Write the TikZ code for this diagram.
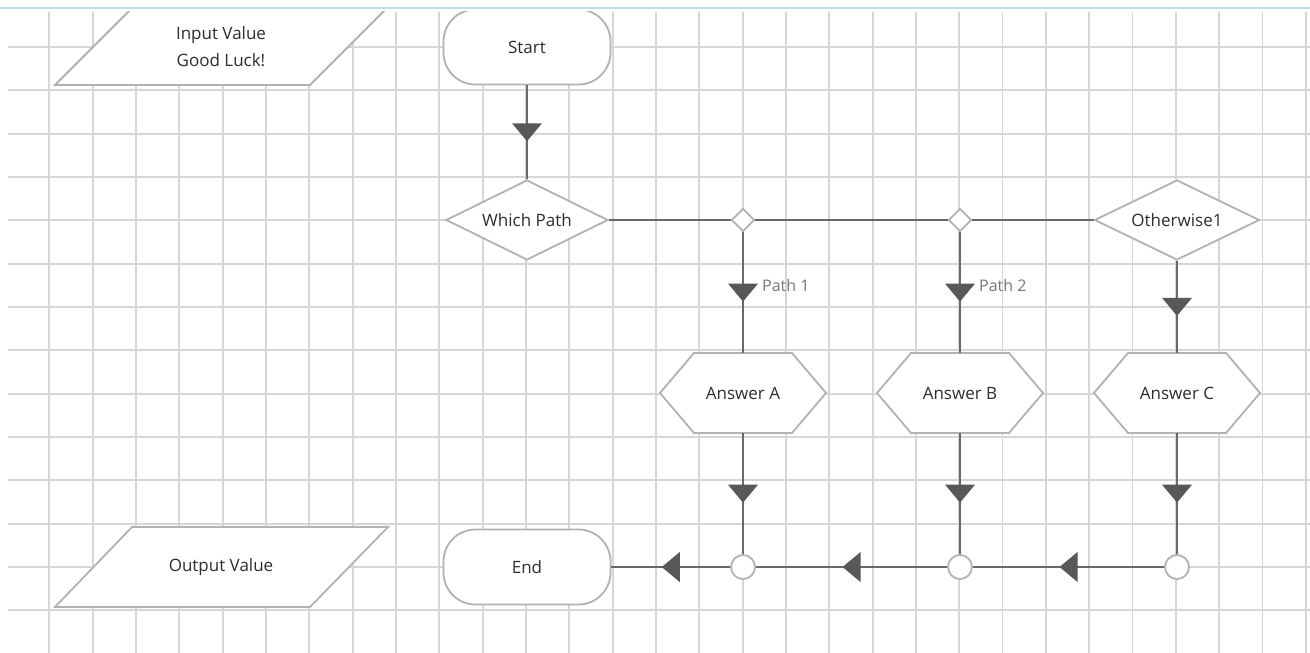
\documentclass[tikz,border=0pt]{standalone}
\usepackage{fontspec}
\setmainfont{Open Sans}
\usetikzlibrary{shapes.geometric,decorations.markings,calc}
\definecolor{gridc}{RGB}{214,214,214}
\definecolor{shapec}{RGB}{178,178,178}
\definecolor{linec}{RGB}{105,105,105}
\definecolor{arrc}{RGB}{88,88,88}
\definecolor{txtc}{RGB}{45,45,45}
\definecolor{lblc}{RGB}{120,120,120}
\definecolor{topc}{RGB}{190,222,232}
\begin{document}
\begin{tikzpicture}[x=1pt,y=-1pt,
  every node/.style={font=\fontsize{17}{27}\selectfont, text=txtc},
  box/.style={draw=none, rectangle, inner sep=0pt},
  outline/.style={draw=shapec, line width=1.8pt, fill=white},
  term/.style={outline, rectangle, rounded corners=32pt, minimum width=167pt, minimum height=75pt, inner sep=0pt},
  decide/.style={outline, diamond, aspect=2, inner sep=0pt, minimum height=80pt},
  junc/.style={outline, diamond, minimum width=23pt, minimum height=23pt, inner sep=0pt},
  merge/.style={outline, circle, minimum size=24pt, inner sep=0pt},
  conn/.style={draw=linec, line width=2pt},
  midarrow/.style={postaction={decorate}, decoration={markings, mark=at position 0.5 with {\fill[arrc] (-9pt,15pt) -- (9pt,0pt) -- (-9pt,-15pt) -- cycle;}}},
  lbl/.style={font=\fontsize{16}{18}\selectfont, text=lblc, anchor=west, inner sep=0pt},
]
\useasboundingbox (0,0) rectangle (1310,653);
\fill[white] (0,0) rectangle (1310,653);
% grid
\foreach \k in {1,...,30} \draw[gridc, line width=1.8pt] ({6+43.33*\k},12) -- ({6+43.33*\k},653);
\foreach \k in {1,...,14} \draw[gridc, line width=1.8pt] (8,{3.7+43.33*\k}) -- (1310,{3.7+43.33*\k});

% parallelograms
\draw[outline] (55,85) -- (310,85) -- (386,9) -- (131,9) -- cycle;
\node[align=center] (input) at (221,47) {Input Value\\Good Luck!};
\draw[outline] (55,607) -- (310,607) -- (388,527) -- (132,527) -- cycle;
\node (output) at (221,567) {Output Value};

% terminals
\node[term] (start) at (527,47) {Start};
\node[term] (end) at (527,567) {End};

% decisions
\node[decide, minimum width=162pt] (which) at (527,220) {Which Path};
\node[decide, minimum width=165pt] (other) at (1177,220) {Otherwise1};
\node[junc] (d1) at (743,220) {};
\node[junc] (d2) at (960,220) {};

% hexagons
\foreach \x in {743,960,1177}
  \draw[outline] (\x,393) ++(-83,0) -- ++(34,-40) -- ++(98,0) -- ++(34,40) -- ++(-34,40) -- ++(-98,0) -- cycle;
\node[box, minimum width=166pt, minimum height=80pt] (ansA) at (743,393) {Answer A};
\node[box, minimum width=166pt, minimum height=80pt] (ansB) at (960,393) {Answer B};
\node[box, minimum width=166pt, minimum height=80pt] (ansC) at (1177,393) {Answer C};

% merge circles
\node[merge] (c1) at (743,567) {};
\node[merge] (c2) at (960,567) {};
\node[merge] (c3) at (1177,567) {};

% connectors
\draw[conn, midarrow] (start.south) -- (which.north);
\draw[conn] (which.east) -- (d1.west);
\draw[conn] (d1.east) -- (d2.west);
\draw[conn] (d2.east) -- (other.west);
\draw[conn, midarrow] (d1.south) -- (ansA.north);
\draw[conn, midarrow] (d2.south) -- (ansB.north);
\draw[conn, midarrow] (other.south) -- (ansC.north);
\node[lbl] (p1) at ($(d1.south)!0.5!(ansA.north)+(19,-7)$) {Path 1};
\node[lbl] (p2) at ($(d2.south)!0.5!(ansB.north)+(19,-7)$) {Path 2};
\draw[conn, midarrow] (ansA.south) -- (c1.north);
\draw[conn, midarrow] (ansB.south) -- (c2.north);
\draw[conn, midarrow] (ansC.south) -- (c3.north);
\draw[conn, midarrow] (c3.west) -- (c2.east);
\draw[conn, midarrow] (c2.west) -- (c1.east);
\draw[conn, midarrow] (c1.west) -- (end.east);

% top edge
\fill[white] (0,0) rectangle (1310,11);
\draw[topc, line width=1.5pt] (0,8) -- (1310,8);
\end{tikzpicture}
\end{document}
